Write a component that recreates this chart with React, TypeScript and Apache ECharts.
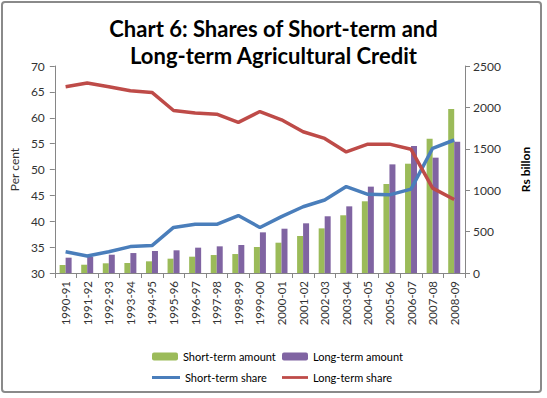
import React, { useEffect, useRef } from "react";
import * as echarts from "echarts";

const years = [
  "1990-91", "1991-92", "1992-93", "1993-94", "1994-95", "1995-96", "1996-97",
  "1997-98", "1998-99", "1999-00", "2000-01", "2001-02", "2002-03", "2003-04",
  "2004-05", "2005-06", "2006-07", "2007-08", "2008-09",
];
const shortAmount = [97, 100, 117, 121, 141, 173, 197, 217, 229, 314, 366, 447, 539, 697, 866, 1075, 1320, 1622, 1981];
const longAmount = [185, 197, 221, 241, 266, 274, 306, 322, 338, 491, 535, 600, 685, 805, 1043, 1312, 1534, 1393, 1586];
const shortShare = [34.1, 33.3, 34.1, 35.1, 35.3, 38.8, 39.4, 39.4, 41.1, 38.8, 40.9, 42.8, 44.1, 46.7, 45.2, 45.1, 46.2, 54.1, 55.7];
const longShare = [66.0, 66.7, 66.0, 65.2, 64.9, 61.4, 60.9, 60.7, 59.1, 61.2, 59.6, 57.3, 56.0, 53.4, 54.9, 54.9, 53.9, 46.4, 44.2];

const FONT = "Lato, 'Open Sans', sans-serif";
const GREEN = "#9BBB59";
const PURPLE = "#8064A2";
const BLUE = "#4A7EBB";
const RED = "#BE4B48";
const AXIS = "#868686";
const TXT = "#333333";
const LINE_ICON = "path://M0,0 H28 V3 H0 Z";

export default function App() {
  const ref = useRef<HTMLDivElement>(null);
  useEffect(() => {
    if (!ref.current) return;
    const chart = echarts.init(ref.current, null, { renderer: "svg" });
    const legendText = { fontFamily: FONT, fontSize: 11, color: "#000" };
    chart.setOption({
      animation: false,
      backgroundColor: "#ffffff",
      textStyle: { fontFamily: FONT },
      title: {
        text: "Chart 6: Shares of Short-term and\nLong-term Agricultural Credit",
        left: "center",
        top: 10,
        textStyle: { fontFamily: FONT, fontSize: 22, fontWeight: "bold", color: "#000", lineHeight: 27 },
      },
      graphic: [
        {
          type: "rect",
          shape: { x: 2, y: 2, width: 539, height: 390, r: 3 },
          style: { fill: "none", stroke: "#8a8a8a", lineWidth: 2 },
          silent: true,
        },
      ],
      legend: [
        { data: ["Short-term amount"], left: 147, top: 346, itemWidth: 26, itemHeight: 8, textStyle: legendText },
        { data: ["Long-term amount"], left: 277, top: 346, itemWidth: 26, itemHeight: 8, textStyle: legendText },
        { data: [{ name: "Short-term share", icon: LINE_ICON }], left: 147, top: 367, itemWidth: 28, itemHeight: 3, textStyle: legendText },
        { data: [{ name: "Long-term share", icon: LINE_ICON }], left: 277, top: 367, itemWidth: 26, itemHeight: 3, textStyle: legendText },
      ],
      grid: { left: 53, right: 82, top: 66, bottom: 125, containLabel: false },
      xAxis: {
        type: "category",
        data: years,
        boundaryGap: true,
        axisLine: { lineStyle: { color: AXIS } },
        axisTick: { show: true, length: 5, interval: 0, lineStyle: { color: AXIS } },
        axisLabel: { rotate: 90, interval: 0, fontFamily: FONT, fontSize: 11.5, color: TXT, margin: 8 },
      },
      yAxis: [
        {
          type: "value",
          min: 30,
          max: 70,
          interval: 5,
          name: "Per cent",
          nameLocation: "middle",
          nameRotate: 90,
          nameGap: 34,
          nameTextStyle: { fontFamily: FONT, fontSize: 12, color: TXT },
          axisLine: { show: true, lineStyle: { color: AXIS } },
          axisTick: { show: true, length: 5, lineStyle: { color: AXIS } },
          splitLine: { show: false },
          axisLabel: { fontFamily: FONT, fontSize: 12, color: TXT, margin: 10 },
        },
        {
          type: "value",
          min: 0,
          max: 2500,
          interval: 500,
          name: "Rs billon",
          nameLocation: "middle",
          nameRotate: 90,
          nameGap: 54,
          nameTextStyle: { fontFamily: FONT, fontSize: 12, fontWeight: "bold", color: "#000" },
          axisLine: { show: true, lineStyle: { color: AXIS } },
          axisTick: { show: true, length: 5, lineStyle: { color: AXIS } },
          splitLine: { show: false },
          axisLabel: { fontFamily: FONT, fontSize: 12, color: TXT, margin: 8, formatter: (v: number) => String(v) },
        },
      ],
      series: [
        {
          name: "Short-term amount",
          type: "bar",
          yAxisIndex: 1,
          data: shortAmount,
          barWidth: 6,
          barGap: "0%",
          itemStyle: { color: GREEN },
        },
        {
          name: "Long-term amount",
          type: "bar",
          yAxisIndex: 1,
          data: longAmount,
          barWidth: 6,
          barGap: "0%",
          itemStyle: { color: PURPLE },
        },
        {
          name: "Short-term share",
          type: "line",
          yAxisIndex: 0,
          data: shortShare,
          symbol: "none",
          lineStyle: { color: BLUE, width: 3.5 },
          itemStyle: { color: BLUE },
        },
        {
          name: "Long-term share",
          type: "line",
          yAxisIndex: 0,
          data: longShare,
          symbol: "none",
          lineStyle: { color: RED, width: 3.5 },
          itemStyle: { color: RED },
        },
      ],
    });
    return () => chart.dispose();
  }, []);
  return (
    <div
      ref={ref}
      style={{ position: "fixed", left: 0, top: 0, width: 547, height: 398 }}
    />
  );
}
